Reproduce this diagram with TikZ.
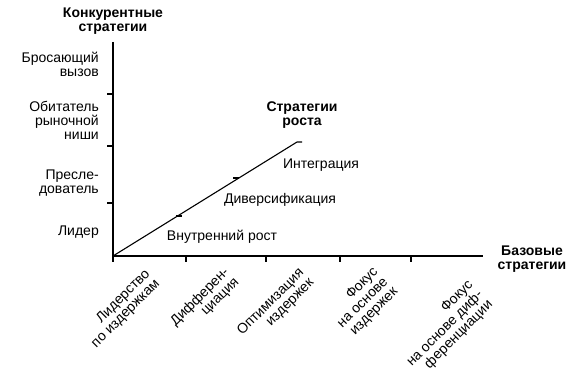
\documentclass[tikz,border=0pt]{standalone}
\usepackage{fontspec}
\setmainfont{Liberation Sans}

\begin{document}
\begin{tikzpicture}[x=1pt,y=-1pt,
    font=\fontsize{14}{14}\selectfont,
    axis/.style={line width=1.3pt},
    growth/.style={line width=1.1pt},
    ylab/.style={anchor=east,align=right,inner sep=0pt},
    xlab/.style={rotate=45,anchor=east,align=right,inner sep=0pt},
    head/.style={align=center,inner sep=0pt,font=\fontsize{14}{14}\selectfont\bfseries},
    area/.style={inner sep=0pt}]

  \useasboundingbox (0,0) rectangle (578,371);

  % -------- AXES --------
  \coordinate (O)    at (113,256);
  \coordinate (ytop) at (113,42);
  \coordinate (xend) at (483,256);
  \draw[axis] (ytop) -- (O) -- (xend);

  % ticks on both axes
  \foreach \y in {94,146,203} {
      \draw[axis] (107,\y) -- (113,\y);
  }
  \foreach \x in {113,186,266,340,411} {
      \draw[axis] (\x,256) -- (\x,262);
  }

  % Axis titles
  \node[head] (comp) at (113,21)  {Конкурентные\\стратегии};
  \node[head] (base) at (532,259) {Базовые\\стратегии};

  % -------- Y LABELS --------
  \node[ylab] (challenger) at (99,64)  {Бросающий\\вызов};
  \node[ylab] (nicher)     at (99,120) {Обитатель\\рыночной\\ниши};
  \node[ylab] (follower)   at (99,183) {Пресле-\\дователь};
  \node[ylab] (leader)     at (99,232) {Лидер};

  % -------- X LABELS --------
  \node[xlab] (costlead) at (153,277) {Лидерство\\по издержкам};
  \node[xlab] (diff)     at (232,275) {Дифферен-\\циация};
  \node[xlab] (costopt)  at (307,276) {Оптимизация\\издержек};
  \node[xlab] (costfoc)  at (386,280) {Фокус\\на основе\\издержек};
  \node[xlab] (difffoc)  at (481,293) {Фокус\\на основе диф-\\ференциации};

  % ---------- Growth line ----------
  \coordinate (gtop) at (297,142);
  \coordinate (gend) at (302,142);
  \draw[growth] (O) -- (gtop) -- (gend);

  % small marks on the line
  \foreach \x/\y in {176/216,233/178} {
      \draw[growth] (\x,\y) -- ++(6,0);
  }

  \node[head] (growth) at (302,115) {Стратегии\\роста};

  % Growth areas
  \node[area] (integr) at (321,165) {Интеграция};
  \node[area] (divers) at (280,200) {Диверсификация};
  \node[area] (intern) at (222,237) {Внутренний рост};

\end{tikzpicture}
\end{document}
